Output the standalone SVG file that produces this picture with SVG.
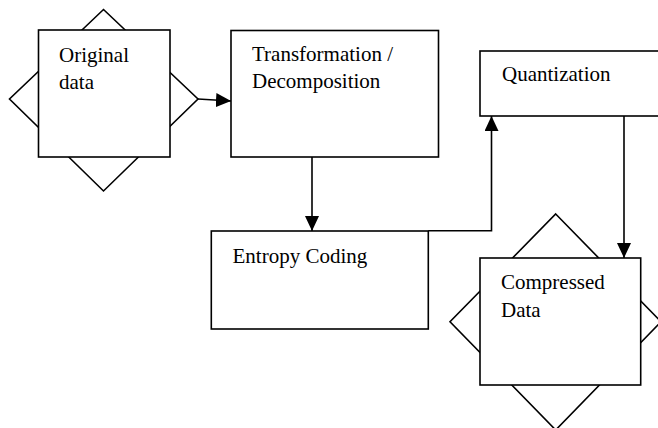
<svg xmlns="http://www.w3.org/2000/svg" width="658" height="428" viewBox="0 0 658 428">
<defs>
<style>
.shape{fill:#fff;stroke:#000;stroke-width:1.6}
.lbl{font-family:"Liberation Serif","Times New Roman",serif;font-size:21px;fill:#000}
.conn{fill:none;stroke:#000;stroke-width:1.6}
</style>
<marker id="ah" markerUnits="userSpaceOnUse" markerWidth="15" markerHeight="14" viewBox="0 0 15 14" refX="15" refY="7" orient="auto">
<path d="M0,0 L15,7 L0,14 Z" fill="#000"/>
</marker>
</defs>
<rect width="658" height="428" fill="#fff"/>
<g id="original-data">
<polygon class="shape" points="103.5,9.5 198,99 103.5,191 9.5,99"/>
<rect class="shape" x="38.5" y="30" width="131.5" height="127"/>
<text class="lbl" x="59" y="61.5">Original</text>
<text class="lbl" x="59" y="88.5">data</text>
</g>
<g id="transformation">
<rect class="shape" x="231" y="30.5" width="207.5" height="126.5"/>
<text class="lbl" x="252" y="61">Transformation /</text>
<text class="lbl" x="252" y="88">Decomposition</text>
</g>
<g id="quantization">
<rect class="shape" x="480" y="51" width="185" height="65"/>
<text class="lbl" x="502" y="81">Quantization</text>
</g>
<g id="entropy-coding">
<rect class="shape" x="211.3" y="231" width="217" height="98"/>
<text class="lbl" x="232.5" y="262.5">Entropy Coding</text>
</g>
<g id="compressed-data">
<polygon class="shape" points="555.7,214 661,321.7 555.7,430 450,321.7"/>
<rect class="shape" x="480" y="258" width="160.7" height="127"/>
<text class="lbl" x="501" y="288.5">Compressed</text>
<text class="lbl" x="501" y="316.5">Data</text>
</g>
<g id="connectors">
<path class="conn" d="M198,99 L231,101" marker-end="url(#ah)"/>
<path class="conn" d="M312,157 L312,231" marker-end="url(#ah)"/>
<path class="conn" d="M428.3,230.7 L491.5,230.7 L491.5,116" marker-end="url(#ah)"/>
<path class="conn" d="M624,116 L624,258" marker-end="url(#ah)"/>
</g>
</svg>
